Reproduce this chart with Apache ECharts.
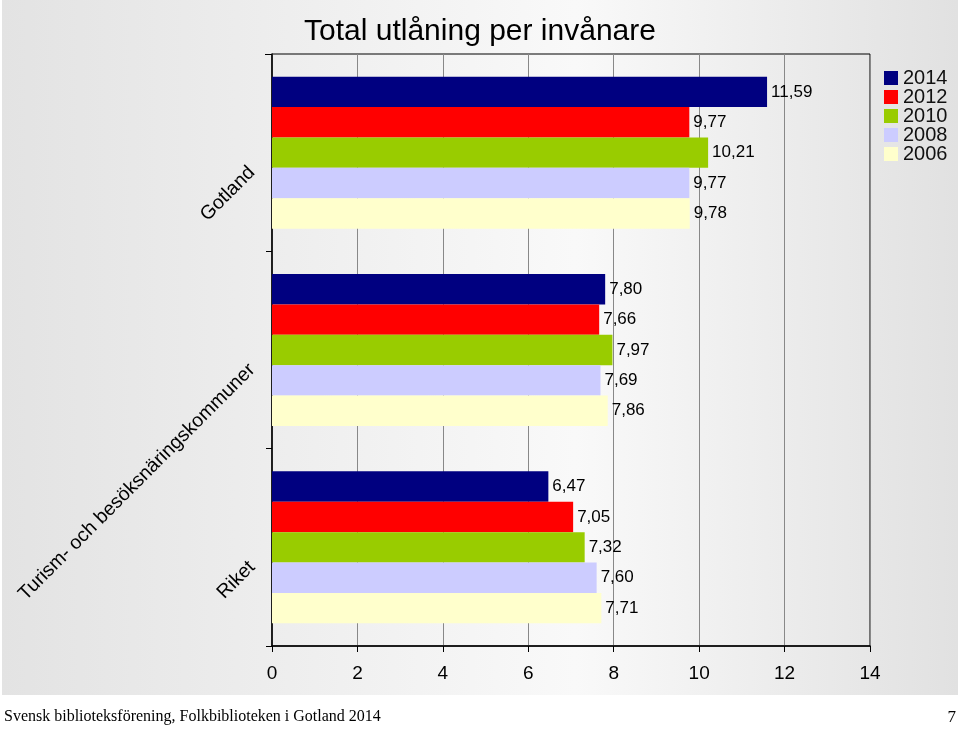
<!DOCTYPE html>
<html>
<head>
<meta charset="utf-8">
<script src="https://cdn.jsdelivr.net/npm/echarts@6/dist/echarts.min.js"></script>
<style>html,body{margin:0;padding:0;background:#fff}#c{width:960px;height:730px}</style>
</head>
<body>
<div id="c"></div>
<script>
const categories = ['Riket', 'Turism- och besöksnäringskommuner', 'Gotland'];
const years = ['2014', '2012', '2010', '2008', '2006'];
const values2014 = [6.47, 7.80, 11.59];
const values2012 = [7.05, 7.66, 9.77];
const values2010 = [7.32, 7.97, 10.21];
const values2008 = [7.60, 7.69, 9.77];
const values2006 = [7.71, 7.86, 9.78];
const colors = ['#000080', '#ff0000', '#99cc00', '#ccccff', '#ffffcc'];
const allValues = [values2014, values2012, values2010, values2008, values2006];

const chart = echarts.init(document.getElementById('c'));
const font = 'Liberation Sans, Arial, sans-serif';
chart.setOption({
  animation: false,
  textStyle: { fontFamily: font },
  graphic: [
    { type: 'rect', z: -10, silent: true,
      shape: { x: 2, y: 0, width: 956, height: 695 },
      style: { fill: new echarts.graphic.LinearGradient(0, 0, 1, 0, [
        { offset: 0, color: '#e3e3e3' },
        { offset: 0.6, color: '#f9f9f9' },
        { offset: 1, color: '#e1e1e1' }
      ]) } },
    { type: 'line', silent: true, z: 10,
      shape: { x1: 265, y1: 54.5, x2: 272, y2: 54.5 }, style: { stroke: '#000', lineWidth: 1 } },
    { type: 'text', left: 4, top: 709, silent: true,
      style: { text: 'Svensk biblioteksförening, Folkbiblioteken i Gotland 2014', fontFamily: 'Liberation Serif, Times New Roman, serif', fontSize: 16, fill: '#000' } },
    { type: 'text', right: 4, top: 709, silent: true,
      style: { text: '7', fontFamily: 'Liberation Serif, Times New Roman, serif', fontSize: 17, fill: '#000' } }
  ],
  title: {
    text: 'Total utlåning per invånare', left: 'center', top: 12,
    textStyle: { fontSize: 30, fontWeight: 'normal', color: '#000', fontFamily: font }
  },
  legend: {
    data: years, padding: 0,
    orient: 'vertical', left: 884, top: 68, itemWidth: 14, itemHeight: 14, itemGap: -1,
    icon: 'rect', textStyle: { fontSize: 20, color: '#111', padding: 0 }
  },
  grid: { left: 272, right: 90, top: 54, bottom: 84, show: true, borderColor: '#000', borderWidth: 1, backgroundColor: 'transparent' },
  xAxis: {
    type: 'value', min: 0, max: 14, interval: 2,
    axisLine: { show: true, lineStyle: { color: '#000', width: 1.5 } },
    axisTick: { show: true, length: 6, lineStyle: { color: '#000' } },
    splitLine: { show: true, lineStyle: { color: '#888', width: 1 } },
    axisLabel: { fontSize: 19, color: '#000', margin: 18 }
  },
  yAxis: {
    type: 'category', data: categories,
    axisLine: { show: true, lineStyle: { color: '#000', width: 1.5 } },
    axisTick: { show: true, length: 6, lineStyle: { color: '#000' } },
    axisLabel: { fontSize: 19.5, color: '#000', rotate: 45, margin: 37, verticalAlign: 'top', padding: [14, 0, 0, 0] }
  },
  series: years.map((y, i) => ({
    name: y, type: 'bar', data: allValues[i],
    itemStyle: { color: colors[i] },
    barGap: '0%', barCategoryGap: '23%',
    label: { show: true, position: 'right', distance: 4, fontSize: 17, color: '#000',
      formatter: p => p.value.toFixed(2).replace('.', ',') }
  }))
});
</script>
</body>
</html>
